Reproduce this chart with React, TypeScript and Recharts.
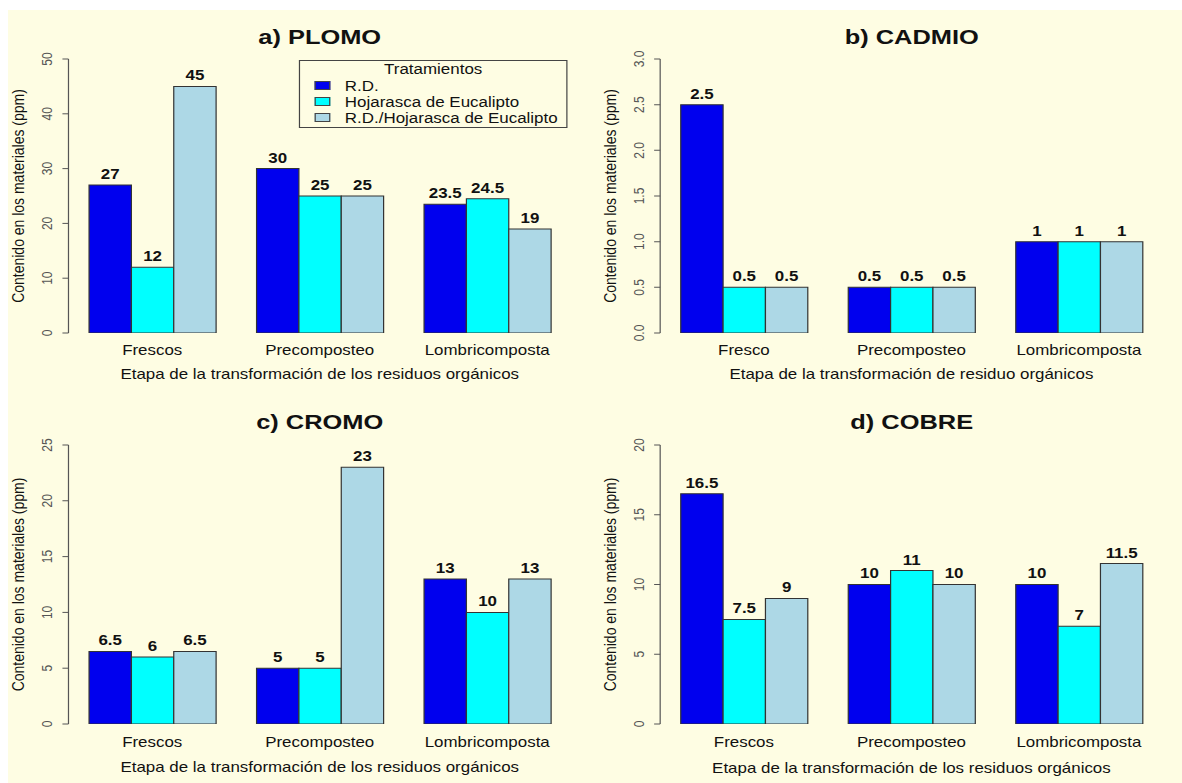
import React from "react";
import { Bar, BarChart, XAxis, YAxis, Label, LabelList } from "recharts";

// values (ppm)
const stagesPlural = ["Frescos", "Precomposteo", "Lombricomposta"];
const stagesSingular = ["Fresco", "Precomposteo", "Lombricomposta"];

const plomoRD = [27, 30, 23.5];
const plomoHoj = [12, 25, 24.5];
const plomoMix = [45, 25, 19];

const cadmioRD = [2.5, 0.5, 1];
const cadmioHoj = [0.5, 0.5, 1];
const cadmioMix = [0.5, 0.5, 1];

const cromoRD = [6.5, 5, 13];
const cromoHoj = [6, 5, 10];
const cromoMix = [6.5, 23, 13];

const cobreRD = [16.5, 10, 10];
const cobreHoj = [7.5, 11, 7];
const cobreMix = [9, 10, 11.5];

const plomoTicks = [0, 10, 20, 30, 40, 50];
const cadmioTicks = [0, 0.5, 1, 1.5, 2, 2.5, 3];
const cromoTicks = [0, 5, 10, 15, 20, 25];
const cobreTicks = [0, 5, 10, 15, 20];

const seriesNames = ["R.D.", "Hojarasca de Eucalipto", "R.D./Hojarasca de Eucalipto"];
const seriesColors = ["#0000EE", "#00FFFF", "#ADD8E6"];

const yTitle = "Contenido en los materiales (ppm)";
const xTitle = "Etapa de la transformación de los residuos orgánicos";
const xTitleB = "Etapa de la transformación de residuo orgánicos";

// the original picture is stretched horizontally
const STRETCH = 1.21;
const FONT = "'Liberation Sans', Arial, Helvetica, sans-serif";
const BG = "#FEFDE3";
const CHART_W = 488;
const PLOT_LEFT = 56.6;
const PLOT_RIGHT = 471.9;

function buildRows(cats: string[], rd: number[], hoj: number[], mix: number[]) {
  return cats.map((c, i) => ({ cat: c, rd: rd[i], hoj: hoj[i], mix: mix[i] }));
}

function LegendBox() {
  return (
    <div
      style={{
        position: "absolute",
        left: 247,
        top: 60,
        width: 222,
        height: 68,
        boxSizing: "border-box",
        border: "1px solid #444",
        fontFamily: FONT,
        fontSize: 14,
        color: "#111",
      }}
    >
      <div style={{ position: "absolute", top: 0, left: 0, width: "100%", textAlign: "center", lineHeight: "16px" }}>
        Tratamientos
      </div>
      {seriesNames.map((n, i) => (
        <div key={n} style={{ position: "absolute", top: 17 + i * 16, left: 12, height: 16, lineHeight: "16px", whiteSpace: "nowrap" }}>
          <span
            style={{
              display: "inline-block",
              width: 11,
              height: 7,
              background: seriesColors[i],
              border: "1px solid #444",
              marginRight: 12,
              verticalAlign: "1px",
            }}
          />
          {n}
        </div>
      ))}
    </div>
  );
}

interface PanelProps {
  left: number;
  top: number;
  title: string;
  titleY: number;
  rows: any[];
  ticks: number[];
  decimals: number;
  plotTop: number;
  plotBottom: number;
  xLabel: string;
  catDy: number;
  xTitleDy: number;
  legend?: boolean;
}

function Panel(p: PanelProps) {
  const height = 392;
  const max = p.ticks[p.ticks.length - 1];
  return (
    <div style={{ position: "absolute", left: p.left, top: p.top, width: CHART_W, height }}>
      <div
        style={{
          position: "absolute",
          left: PLOT_LEFT,
          width: PLOT_RIGHT - PLOT_LEFT,
          top: p.titleY - 13,
          lineHeight: "26px",
          textAlign: "center",
          fontFamily: FONT,
          fontSize: 21,
          fontWeight: "bold",
          color: "#111",
        }}
      >
        {p.title}
      </div>
      <BarChart
        width={CHART_W}
        height={height}
        data={p.rows}
        margin={{ top: p.plotTop, right: CHART_W - PLOT_RIGHT, bottom: 0, left: 0 }}
        barCategoryGap={17}
        barGap={0}
        style={{ fontFamily: FONT }}
      >
        <XAxis
          dataKey="cat"
          axisLine={false}
          tickLine={false}
          tickSize={0}
          tickMargin={0}
          interval={0}
          height={height - p.plotBottom}
          tick={({ x, y, payload }: any) => (
            <text x={x} y={y + p.catDy} textAnchor="middle" fontSize={14} fill="#111" fontFamily={FONT}>
              {payload.value}
            </text>
          )}
        >
          <Label
            content={({ viewBox }: any) => (
              <text
                x={viewBox.x + viewBox.width / 2}
                y={viewBox.y + p.xTitleDy}
                textAnchor="middle"
                fontSize={14}
                fill="#111"
                fontFamily={FONT}
              >
                {p.xLabel}
              </text>
            )}
          />
        </XAxis>
        <YAxis
          width={PLOT_LEFT}
          domain={[0, max]}
          ticks={p.ticks}
          allowDataOverflow
          stroke="#555"
          tickSize={5}
          tickMargin={8.5}
          tick={({ x, y, payload }: any) => (
            <text
              x={x}
              y={y}
              transform={`rotate(-90, ${x}, ${y})`}
              textAnchor="middle"
              fontSize={12}
              fill="#555"
              fontFamily={FONT}
            >
              {payload.value.toFixed(p.decimals)}
            </text>
          )}
        >
          <Label
            content={({ viewBox }: any) => {
              const cx = 20;
              const cy = viewBox.y + viewBox.height / 2;
              return (
                <text x={cx} y={cy} transform={`rotate(-90, ${cx}, ${cy})`} textAnchor="middle" fontSize={14} fill="#111" fontFamily={FONT}>
                  {yTitle}
                </text>
              );
            }}
          />
        </YAxis>
        {["rd", "hoj", "mix"].map((k, i) => (
          <Bar key={k} dataKey={k} name={seriesNames[i]} fill={seriesColors[i]} stroke="#333" strokeWidth={1} isAnimationActive={false}>
            <LabelList dataKey={k} position="top" offset={6} fontSize={14} fontWeight="bold" fill="#111" fontFamily={FONT} />
          </Bar>
        ))}
      </BarChart>
      {p.legend && <LegendBox />}
    </div>
  );
}

export default function App() {
  const rightX = 592 / STRETCH;
  return (
    <div style={{ position: "absolute", left: 0, top: 0, width: 1182, height: 783, background: "#fff", overflow: "hidden" }}>
      <div style={{ position: "absolute", left: 8, top: 10, right: 0, bottom: 0, background: BG }} />
      <div
        style={{
          position: "absolute",
          left: 0,
          top: 0,
          width: 1182 / STRETCH,
          height: 783,
          transform: `scaleX(${STRETCH})`,
          transformOrigin: "0 0",
        }}
      >
        <Panel
          left={0}
          top={0}
          title="a) PLOMO"
          titleY={37}
          rows={buildRows(stagesPlural, plomoRD, plomoHoj, plomoMix)}
          ticks={plomoTicks}
          decimals={0}
          plotTop={59}
          plotBottom={333}
          xLabel={xTitle}
          catDy={22}
          xTitleDy={46}
          legend
        />
        <Panel
          left={rightX}
          top={0}
          title="b) CADMIO"
          titleY={37}
          rows={buildRows(stagesSingular, cadmioRD, cadmioHoj, cadmioMix)}
          ticks={cadmioTicks}
          decimals={1}
          plotTop={59}
          plotBottom={333}
          xLabel={xTitleB}
          catDy={22}
          xTitleDy={46}
        />
        <Panel
          left={0}
          top={392}
          title="c) CROMO"
          titleY={30}
          rows={buildRows(stagesPlural, cromoRD, cromoHoj, cromoMix)}
          ticks={cromoTicks}
          decimals={0}
          plotTop={53}
          plotBottom={332}
          xLabel={xTitle}
          catDy={23}
          xTitleDy={48}
        />
        <Panel
          left={rightX}
          top={392}
          title="d) COBRE"
          titleY={30}
          rows={buildRows(stagesPlural, cobreRD, cobreHoj, cobreMix)}
          ticks={cobreTicks}
          decimals={0}
          plotTop={53}
          plotBottom={332}
          xLabel={xTitle}
          catDy={23}
          xTitleDy={49}
        />
      </div>
    </div>
  );
}
